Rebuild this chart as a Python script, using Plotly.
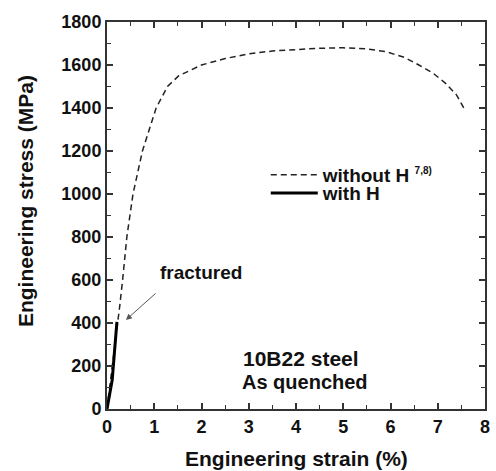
import plotly.graph_objects as go

# Data
strain_noH = [0, 0.1, 0.2, 0.27, 0.33, 0.42, 0.55, 0.75, 1.04, 1.28, 1.52, 2.0, 2.5, 3.0,
              3.5, 4.0, 4.5, 5.0, 5.5, 5.9, 6.3, 6.6, 6.9, 7.16, 7.4, 7.55]
stress_noH = [0, 170, 350, 480, 600, 800, 1000, 1200, 1400, 1500, 1550, 1600, 1630, 1652,
              1665, 1673, 1678, 1680, 1675, 1662, 1635, 1600, 1562, 1516, 1460, 1400]
strain_H = [0, 0.05, 0.11, 0.16, 0.21]
stress_H = [0, 60, 135, 270, 405]

x_ticks = [0, 1, 2, 3, 4, 5, 6, 7, 8]
y_ticks = [0, 200, 400, 600, 800, 1000, 1200, 1400, 1600, 1800]

FONT = "Liberation Sans"
INK = "#111111"
AX = "#333333"

fig = go.Figure()
fig.add_trace(go.Scatter(
    x=strain_noH, y=stress_noH, mode="lines",
    line=dict(color="#222222", width=1.5, dash="6px,4px"),
    name="without H&nbsp;<sup><span style='font-size:10px'>7,8)</span></sup>",
    legend="legend"))
fig.add_trace(go.Scatter(
    x=strain_H, y=stress_H, mode="lines",
    line=dict(color="#000000", width=3),
    name="with H", legend="legend2"))

axis_common = dict(
    showline=True, linecolor=AX, linewidth=2, mirror="allticks",
    ticks="inside", ticklen=6, tickwidth=1.5, tickcolor=AX,
    showgrid=False, zeroline=False,
    tickfont=dict(family=FONT, size=18, color=INK, weight="bold"),
)

fig.update_xaxes(range=[0, 8], tickvals=x_ticks, ticktext=[str(v) for v in x_ticks],
                 minor=dict(dtick=0.5, ticks="inside", ticklen=4, tickcolor=AX, tickwidth=1.2),
                 **axis_common)
fig.update_yaxes(range=[0, 1800], tickvals=y_ticks, ticktext=[str(v) for v in y_ticks],
                 minor=dict(dtick=100, ticks="inside", ticklen=4, tickcolor=AX, tickwidth=1.2),
                 **axis_common)

leg_font = dict(family=FONT, size=19, color=INK, weight="bold")
fig.update_layout(
    width=496, height=471,
    margin=dict(l=107, r=6, t=22, b=62),
    paper_bgcolor="white", plot_bgcolor="white",
    showlegend=True,
    legend=dict(x=0.42, y=0.605, xanchor="left", yanchor="middle", bgcolor="rgba(0,0,0,0)",
                font=leg_font, itemwidth=47, borderwidth=0),
    legend2=dict(x=0.42, y=0.558, xanchor="left", yanchor="middle", bgcolor="rgba(0,0,0,0)",
                 font=leg_font, itemwidth=47, borderwidth=0),
)

ann_font = dict(family=FONT, size=20, color=INK, weight="bold")
fig.add_annotation(x=0.5, y=-0.129, xref="paper", yref="paper", text="Engineering strain (%)",
                   showarrow=False, font=dict(family=FONT, size=21, color=INK, weight="bold"),
                   xanchor="center", yanchor="middle")
fig.add_annotation(x=-0.214, y=0.5375, xref="paper", yref="paper", text="Engineering stress (MPa)",
                   showarrow=False, textangle=-90,
                   font=dict(family=FONT, size=21, color=INK, weight="bold"),
                   xanchor="center", yanchor="middle")
fig.add_annotation(x=1.98, y=633, text="fractured", showarrow=False,
                   font=dict(family=FONT, size=19, color=INK, weight="bold"))
fig.add_annotation(x=0.40, y=414, ax=1.06, ay=544, axref="x", ayref="y", text="",
                   showarrow=True, arrowhead=2, arrowsize=1.2, arrowwidth=1, arrowcolor="#555555")
fig.add_annotation(x=4.1, y=233, text="10B22 steel", showarrow=False,
                   font=dict(family=FONT, size=21, color=INK, weight="bold"))
fig.add_annotation(x=4.2, y=126, text="As quenched", showarrow=False, font=ann_font)

fig.write_html("out.html")
